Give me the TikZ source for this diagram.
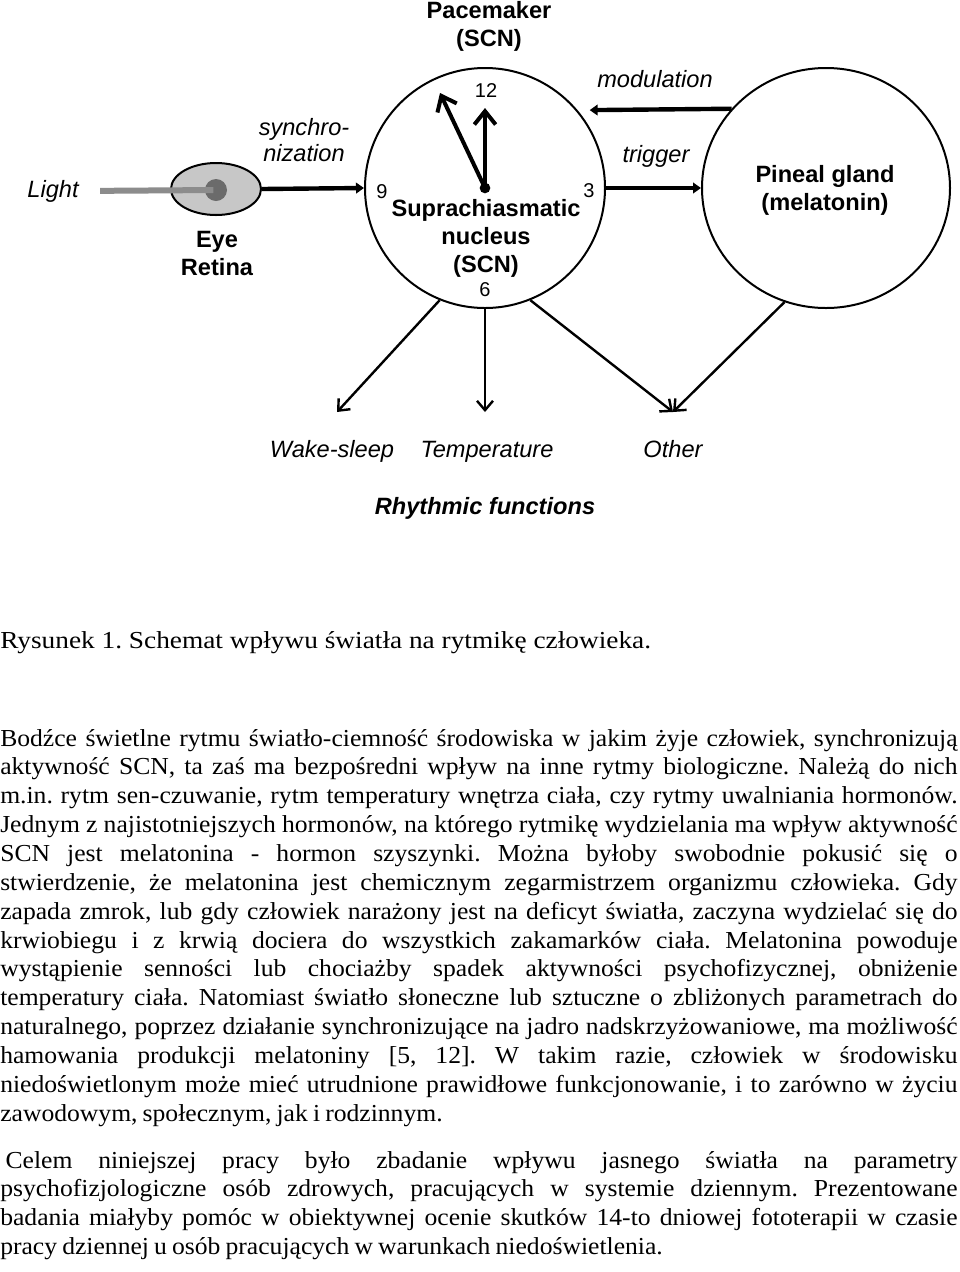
\documentclass[tikz,border=0pt]{standalone}
\usepackage{fontspec}
\setmainfont[FakeStretch=1.05, WordSpace=0.8]{Liberation Serif}
\newfontfamily\capfont[FakeStretch=1.12]{Liberation Serif}
\setsansfont{Liberation Sans}
\usetikzlibrary{arrows.meta,shapes.geometric}
\definecolor{eyegray}{gray}{0.78}
\definecolor{pupilgray}{gray}{0.42}
\definecolor{beamgray}{gray}{0.55}
\frenchspacing
\hyphenpenalty=10000
\exhyphenpenalty=10000
\tikzset{
  lbl/.style={font=\sffamily\fontsize{17.7}{21}\selectfont, align=center, inner sep=0pt},
  blbl/.style={lbl, font=\sffamily\bfseries\fontsize{17.7}{21}\selectfont},
  ilbl/.style={lbl, font=\sffamily\itshape\fontsize{17.7}{19.5}\selectfont},
  num/.style={lbl, font=\sffamily\fontsize{15}{18}\selectfont},
  organ/.style={draw, line width=1.5pt, inner sep=0pt},
  signal/.style={line width=3.3pt, -{Triangle[length=6pt,width=8pt]}},
  hand/.style={line width=3pt, -{Straight Barb[length=10pt,width=16pt]}},
  rhythm/.style={line width=1.8pt, -{Straight Barb[length=7pt,width=12pt]}},
  beam/.style={line width=4.5pt, beamgray},
  para/.style={anchor=base west, inner sep=0pt, text width=718pt, align=justify,
    font=\rmfamily\fontsize{18.3}{21.65}\selectfont}
}
\begin{document}
\begin{tikzpicture}[x=0.75pt, y=-0.75pt]
                        \useasboundingbox (0,0) rectangle (960,1272);
                        \node[blbl] (pace) at (489,26) {Pacemaker\\(SCN)};
                        \node[organ, circle, minimum size=180pt] (scn) at (485,188) {};
                        \node[organ, ellipse, minimum width=186pt, minimum height=180pt] (pin) at (826,188) {};
                        \node[blbl] (scntxt) at (486,238) {Suprachiasmatic\\nucleus\\(SCN)};
                        \node[blbl] (pintxt) at (825,190) {Pineal gland\\(melatonin)};
                        \node[num] (n12) at (486,91) {12};
                        \node[num] (n9) at (382,192) {9};
                        \node[num] (n3) at (589,191) {3};
                        \node[num] (n6) at (485,290) {6};
                        \node[circle, fill, inner sep=0pt, minimum size=8pt] (hub) at (scn.center) {};
                        \coordinate (hr) at (440,93);
                        \coordinate (mn) at (485,108);
                        \draw[hand] (hub.center) -- (hr);
                        \draw[hand] (hub.center) -- (mn);
                        \node[ilbl] (light) at (53,191) {Light};
                        \node[organ, ellipse, fill=eyegray, minimum width=67.5pt, minimum height=39pt] (eye) at (216,189) {};
                        \node[circle, fill=pupilgray, inner sep=0pt, minimum size=16.5pt] (pupil) at (216,190) {};
                        \draw[beam, shorten <=16pt, shorten >=2pt] (light.east) -- (pupil.center);
                        \node[blbl] (eyetxt) at (217,253) {Eye\\Retina};
                        \node[ilbl] (sync) at (304,140) {synchro-\\nization};
                        \draw[signal] (eye.east) -- (scn.west);
                        \node[ilbl] (mod) at (655,79) {modulation};
                        \node[ilbl] (trig) at (656,156) {trigger};
                        \draw[signal, shorten >=9pt] (pin.140) -- (scn.40);
                        \draw[signal] (scn.east) -- (pin.west);
                        \node[ilbl, anchor=base] (ws) at (332,457) {Wake-sleep};
                        \node[ilbl, anchor=base] (temp) at (487,457) {Temperature};
                        \node[ilbl, anchor=base] (oth) at (673,457) {Other};
                        \coordinate (wsT) at (337,412);
                        \coordinate (tempT) at (485,412);
                        \coordinate (othT) at (673,412);
                        \draw[rhythm] (scn.248) -- (wsT);
                        \draw[rhythm] (scn.south) -- (tempT);
                        \draw[rhythm] (scn.292) -- (othT);
                        \draw[rhythm] (pin.250) -- (othT);
                        \node[lbl, anchor=base, font=\sffamily\bfseries\itshape\fontsize{17.7}{21}\selectfont] (rf) at (485,514) {Rhythmic functions};
%                        caption and text
                        \node[para, font=\capfont\fontsize{18.3}{21.65}\selectfont] (cap) at (0,648) {Rysunek 1. Schemat wpływu światła na rytmikę człowieka.};
                        \node[para] (p1) at (0,746) {Bodźce świetlne rytmu światło-ciemność środowiska w jakim żyje człowiek, synchronizują\linebreak
aktywność SCN, ta zaś ma bezpośredni wpływ na inne rytmy biologiczne. Należą do nich\linebreak
m.in. rytm sen-czuwanie, rytm temperatury wnętrza ciała, czy rytmy uwalniania hormonów.\linebreak
Jednym z najistotniejszych hormonów, na którego rytmikę wydzielania ma wpływ aktywność\linebreak
SCN jest melatonina - hormon szyszynki. Można byłoby swobodnie pokusić się o\linebreak
stwierdzenie, że melatonina jest chemicznym zegarmistrzem organizmu człowieka. Gdy\linebreak
zapada zmrok, lub gdy człowiek narażony jest na deficyt światła, zaczyna wydzielać się do\linebreak
krwiobiegu i z krwią dociera do wszystkich zakamarków ciała. Melatonina powoduje\linebreak
wystąpienie senności lub chociażby spadek aktywności psychofizycznej, obniżenie\linebreak
temperatury ciała. Natomiast światło słoneczne lub sztuczne o zbliżonych parametrach do\linebreak
naturalnego, poprzez działanie synchronizujące na jadro nadskrzyżowaniowe, ma możliwość\linebreak
hamowania produkcji melatoniny [5, 12]. W takim razie, człowiek w środowisku\linebreak
niedoświetlonym może mieć utrudnione prawidłowe funkcjonowanie, i to zarówno w życiu\linebreak
zawodowym, społecznym, jak i rodzinnym.};
                        \node[para] (p2) at (0,1168) {\hspace*{4pt}Celem niniejszej pracy było zbadanie wpływu jasnego światła na parametry\linebreak
psychofizjologiczne osób zdrowych, pracujących w systemie dziennym. Prezentowane\linebreak
badania miałyby pomóc w obiektywnej ocenie skutków 14-to dniowej fototerapii w czasie\linebreak
pracy dziennej u osób pracujących w warunkach niedoświetlenia.};
                \end{tikzpicture}
\end{document}
